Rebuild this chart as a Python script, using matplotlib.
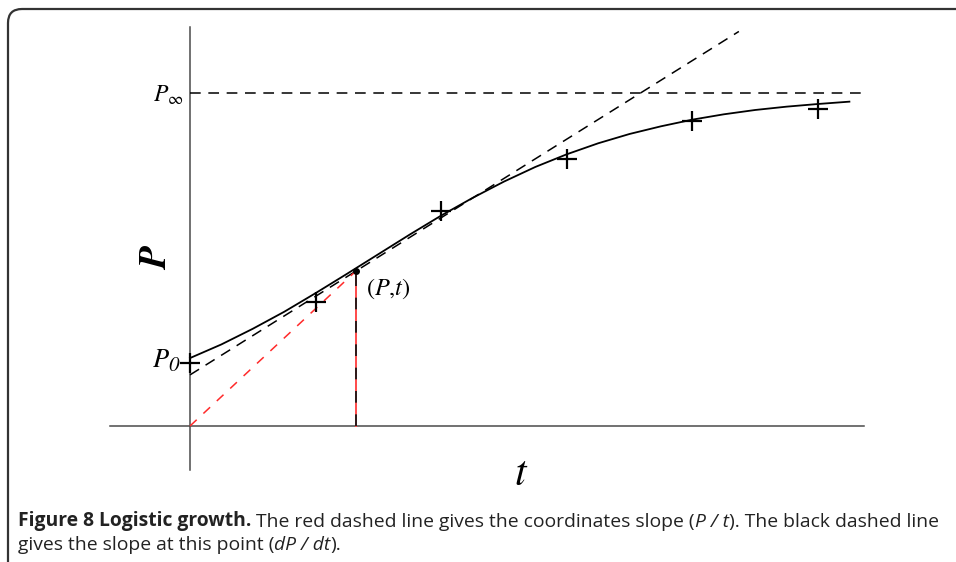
"""Logistic growth sketch: curve, observations, slope lines."""

import matplotlib
matplotlib.use("Agg")
import matplotlib.pyplot as plt
from matplotlib.patches import FancyBboxPatch
from matplotlib.transforms import IdentityTransform

plt.rcParams["mathtext.fontset"] = "stix"

# logistic curve (P in units of P_inf)
t_curve = [0.0, 0.25, 0.5, 0.75, 1.0, 1.25, 1.5, 1.75, 2.0, 2.25, 2.5, 2.75,
           3.0, 3.25, 3.5, 3.75, 4.0, 4.25, 4.5, 4.75, 5.0, 5.25]
p_curve = [0.204, 0.245, 0.292, 0.343, 0.399, 0.457, 0.516, 0.575, 0.632, 0.685,
           0.734, 0.778, 0.816, 0.849, 0.877, 0.900, 0.920, 0.936, 0.949, 0.959,
           0.967, 0.974]

# observations (+)
t_obs = [0, 1, 2, 3, 4, 5]
p_obs = [0.189, 0.372, 0.646, 0.802, 0.916, 0.952]

P_INF = 1.0
t_point, p_point = 1.32, 0.465   # the (P,t) point
slope = 0.236                    # dP/dt at the point
t_tan_end = 4.37
t_max = 5.37
t_min = -0.64
p_axis_min, p_axis_max = -0.132, 1.198

W, H = 956, 562


def main():
    fig = plt.figure(figsize=(W / 100, H / 100), dpi=100)
    ax = fig.add_axes([0, 0, 1, 1])
    # pixel mapping: t=0 at x=190, 125.6 px per unit; P=0 at y=426, 333 px per unit
    ax.set_xlim(-190 / 125.6, (W - 190) / 125.6)
    ax.set_ylim((426 - H) / 333, 426 / 333)
    ax.axis("off")

    axis_c = "#4a4a4a"
    ax.plot([t_min, t_max], [0, 0], color=axis_c, lw=1.1)
    ax.plot([0, 0], [p_axis_min, p_axis_max], color=axis_c, lw=1.1)

    # carrying capacity
    ax.plot([0, t_max], [P_INF, P_INF], color="black", lw=1.1, dashes=(7, 5))

    # tangent at the point
    p0_tan = p_point - slope * t_point
    ax.plot([0, t_tan_end], [p0_tan, p0_tan + slope * t_tan_end],
            color="black", lw=1.1, dashes=(7, 5))

    # coordinate slope (P/t)
    ax.plot([0, t_point], [0, p_point], color="#ff2a2a", lw=1.1, dashes=(6, 6))
    ax.plot([t_point, t_point], [0, p_point], color="#ff4a4a", lw=1.4)
    ax.plot([t_point, t_point], [0, p_point], color="#2a1a1a", lw=1.4, dashes=(6, 6))

    ax.plot(t_curve, p_curve, color="black", lw=1.3)
    ax.plot(t_obs, p_obs, ls="none", marker="+", ms=15, mew=1.6, color="black")
    ax.plot([t_point], [p_point], marker="o", ms=4, color="black")

    # labels
    ax.text(-0.05, P_INF - 0.005, r"$P_\infty$", fontsize=17, ha="right", va="center")
    fig.text(169 / W, 1 - 361 / H, "P", family="STIXGeneral", style="italic",
             fontsize=19, ha="right", va="center")
    fig.text(168 / W, 1 - 366 / H, "0", family="STIXGeneral", style="italic",
             fontsize=15, ha="left", va="center")
    ax.annotate(r"$(P{,}t)$", xy=(t_point, p_point), xytext=(7, -13),
                textcoords="offset points", fontsize=17.5, ha="left", va="center")

    fig.text(157 / W, 1 - 259 / H, "P", family="STIXGeneral", style="italic",
             weight="bold", fontsize=27, rotation=90, ha="center", va="center")
    fig.text(520 / W, 1 - 475 / H, "t", family="STIXGeneral", style="italic",
             fontsize=30, ha="center", va="center")

    # caption
    cap = dict(family="Open Sans", fontsize=13.9, color="#222222", va="bottom")
    parts1 = [("Figure 8 Logistic growth.", "normal", "bold"),
              (" The red dashed line gives the coordinates slope (", "normal", "normal"),
              ("P / t", "italic", "normal"),
              ("). The black dashed line", "normal", "normal")]
    parts2 = [("gives the slope at this point (", "normal", "normal"),
              ("dP / dt", "italic", "normal"),
              (").", "normal", "normal")]
    for parts, ypix in ((parts1, 531), (parts2, 554)):
        prev = None
        for text, style, weight in parts:
            if prev is None:
                prev = fig.text(18 / W, 1 - ypix / H, text, style=style, weight=weight, **cap)
            else:
                prev = ax.annotate(text, xy=(1, 0), xycoords=prev, style=style,
                                   weight=weight, annotation_clip=False, **cap)

    # rounded frame around figure
    frame = FancyBboxPatch((8, -40), 1100, H - 9 + 40,
                           boxstyle="round,pad=0,rounding_size=14",
                           transform=IdentityTransform(), fill=False,
                           edgecolor="#333333", lw=1.6)
    fig.add_artist(frame)

    fig.savefig("out.png", dpi=100)
    plt.close(fig)


if __name__ == "__main__":
    main()
